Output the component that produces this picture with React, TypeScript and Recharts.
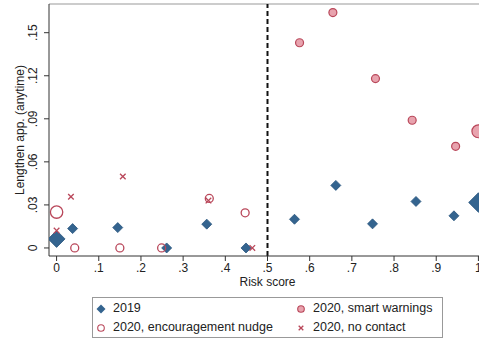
import { ReferenceLine, Scatter, ScatterChart, XAxis, YAxis } from 'recharts';

const xTicks = [0, 0.1, 0.2, 0.3, 0.4, 0.5, 0.6, 0.7, 0.8, 0.9, 1];
const yTicks = [0, 0.03, 0.06, 0.09, 0.12, 0.15];

// w = relative group size (drives marker size)
const data2019 = [
    { x: 0, y: 0.0063, w: 3.6 },
    { x: 0.038, y: 0.0135, w: 1.25 },
    { x: 0.145, y: 0.0142, w: 1.25 },
    { x: 0.261, y: 0, w: 1.25 },
    { x: 0.356, y: 0.0166, w: 1.25 },
    { x: 0.449, y: 0, w: 1.25 },
    { x: 0.564, y: 0.02, w: 1.25 },
    { x: 0.662, y: 0.0436, w: 1.25 },
    { x: 0.749, y: 0.0168, w: 1.25 },
    { x: 0.852, y: 0.0324, w: 1.25 },
    { x: 0.942, y: 0.0224, w: 1.25 },
    { x: 1, y: 0.0317, w: 4.75 },
];

const dataSmart = [
    { x: 0.576, y: 0.143, w: 1.25 },
    { x: 0.655, y: 0.164, w: 1.25 },
    { x: 0.756, y: 0.118, w: 1.25 },
    { x: 0.843, y: 0.089, w: 1.25 },
    { x: 0.946, y: 0.0708, w: 1.25 },
    { x: 1, y: 0.0813, w: 3.3 },
];

const dataNudge = [
    { x: 0, y: 0.025, w: 3 },
    { x: 0.043, y: 0, w: 1.25 },
    { x: 0.15, y: 0, w: 1.25 },
    { x: 0.249, y: 0, w: 1.25 },
    { x: 0.362, y: 0.0345, w: 1.25 },
    { x: 0.447, y: 0.0245, w: 1.25 },
];

const dataNoContact = [
    { x: 0, y: 0.0121, w: 1 },
    { x: 0.034, y: 0.0357, w: 1 },
    { x: 0.157, y: 0.0498, w: 1 },
    { x: 0.36, y: 0.033, w: 1 },
    { x: 0.464, y: 0, w: 1 },
];

const BLUE = '#34648f';
const RED = '#b9475a';
const PINK = '#e8a3ae';
const FONT = '"Liberation Sans", Arial, sans-serif';

const fmt = (v: number) => (v === 0 ? '0' : v === 1 ? '1' : String(v).replace('0.', '.'));

const Diamond = (p: any) => {
    const h = Math.sqrt(((p.payload?.w ?? 1) * 40) / 2);
    const { cx, cy } = p;
    return <path d={`M${cx},${cy - h}L${cx + h},${cy}L${cx},${cy + h}L${cx - h},${cy}Z`} fill={BLUE} stroke="#2a557e" strokeWidth={0.8} />;
};

const FilledCircle = (p: any) => {
    const r = Math.sqrt(((p.payload?.w ?? 1) * 40) / Math.PI);
    return <circle cx={p.cx} cy={p.cy} r={r} fill={PINK} stroke={RED} strokeWidth={1.2} />;
};

const HollowCircle = (p: any) => {
    const r = Math.sqrt(((p.payload?.w ?? 1) * 40) / Math.PI);
    return <circle cx={p.cx} cy={p.cy} r={r} fill="none" stroke={RED} strokeWidth={1.3} />;
};

const Cross = (p: any) => {
    const s = p.s ?? 2.8;
    const { cx, cy } = p;
    return (
        <g stroke={RED} strokeWidth={1.3}>
            <line x1={cx - s} y1={cy - s} x2={cx + s} y2={cy + s} />
            <line x1={cx - s} y1={cy + s} x2={cx + s} y2={cy - s} />
        </g>
    );
};

const YTick = (p: any) => (
    <text transform={`translate(${p.x},${p.y}) rotate(-90)`} textAnchor="middle" fontSize={12} fill="#222" fontFamily={FONT}>
        {fmt(p.payload.value)}
    </text>
);

const legendItems = [
    { label: '2019', mark: 'diamond' },
    { label: '2020, smart warnings', mark: 'filled' },
    { label: '2020, encouragement nudge', mark: 'hollow' },
    { label: '2020, no contact', mark: 'cross' },
];

const LegendMark = ({ mark }: { mark: string }) => (
    <svg width={12} height={12} style={{ marginRight: 6, verticalAlign: 'middle' }}>
        {mark === 'diamond' && <path d="M6,1.5L10.5,6L6,10.5L1.5,6Z" fill={BLUE} />}
        {mark === 'filled' && <circle cx={6} cy={6} r={3.3} fill={PINK} stroke={RED} strokeWidth={1.1} />}
        {mark === 'hollow' && <circle cx={6} cy={6} r={3.3} fill="none" stroke={RED} strokeWidth={1.1} />}
        {mark === 'cross' && <Cross cx={6} cy={6} s={2.3} />}
    </svg>
);

export default function App() {
    return (
        <div style={{ position: 'fixed', left: 0, top: 0, width: 479, height: 339, overflow: 'hidden', background: '#fff' }}>
            <ScatterChart width={486} height={339} margin={{ top: 4, right: 0, bottom: 0, left: 9 }}>
                <XAxis
                    type="number"
                    dataKey="x"
                    domain={[-0.018, 1.018]}
                    ticks={xTicks}
                    tickFormatter={fmt}
                    allowDataOverflow
                    height={83}
                    tickSize={5}
                    stroke="#333"
                    tick={{ fontSize: 12, fill: '#222', fontFamily: FONT }}
                    label={{ value: 'Risk score', position: 'insideTop', offset: 21, fontSize: 12, fill: '#222', fontFamily: FONT }}
                />
                <YAxis
                    type="number"
                    dataKey="y"
                    domain={[-0.0056, 0.17]}
                    ticks={yTicks}
                    allowDataOverflow
                    width={40}
                    tickSize={5}
                    tickMargin={7}
                    stroke="#333"
                    tick={<YTick />}
                    label={{
                        content: () => (
                            <text transform="translate(24,130) rotate(-90)" textAnchor="middle" fontSize={12} fill="#222" fontFamily={FONT}>
                                Lengthen app. (anytime)
                            </text>
                        ),
                    }}
                />
                <ReferenceLine y={0.17} stroke="#999" strokeWidth={1} ifOverflow="visible" />
                <ReferenceLine x={0.5} stroke="#111" strokeWidth={2} strokeDasharray="5 3" />
                <Scatter data={data2019} shape={<Diamond />} isAnimationActive={false} />
                <Scatter data={dataNudge} shape={<HollowCircle />} isAnimationActive={false} />
                <Scatter data={dataSmart} shape={<FilledCircle />} isAnimationActive={false} />
                <Scatter data={dataNoContact} shape={<Cross />} isAnimationActive={false} />
            </ScatterChart>
            <div
                style={{
                    position: 'absolute',
                    left: 92,
                    top: 297,
                    width: 349,
                    height: 39,
                    border: '1px solid #999',
                    fontFamily: FONT,
                    fontSize: 12.5,
                    color: '#222',
                    display: 'grid',
                    gridTemplateColumns: '200px 149px',
                    alignContent: 'center',
                    rowGap: 1,
                }}
            >
                {legendItems.map(it => (
                    <div key={it.label} style={{ paddingLeft: 2, whiteSpace: 'nowrap', lineHeight: '18px' }}>
                        <LegendMark mark={it.mark} />
                        {it.label}
                    </div>
                ))}
            </div>
        </div>
    );
}
